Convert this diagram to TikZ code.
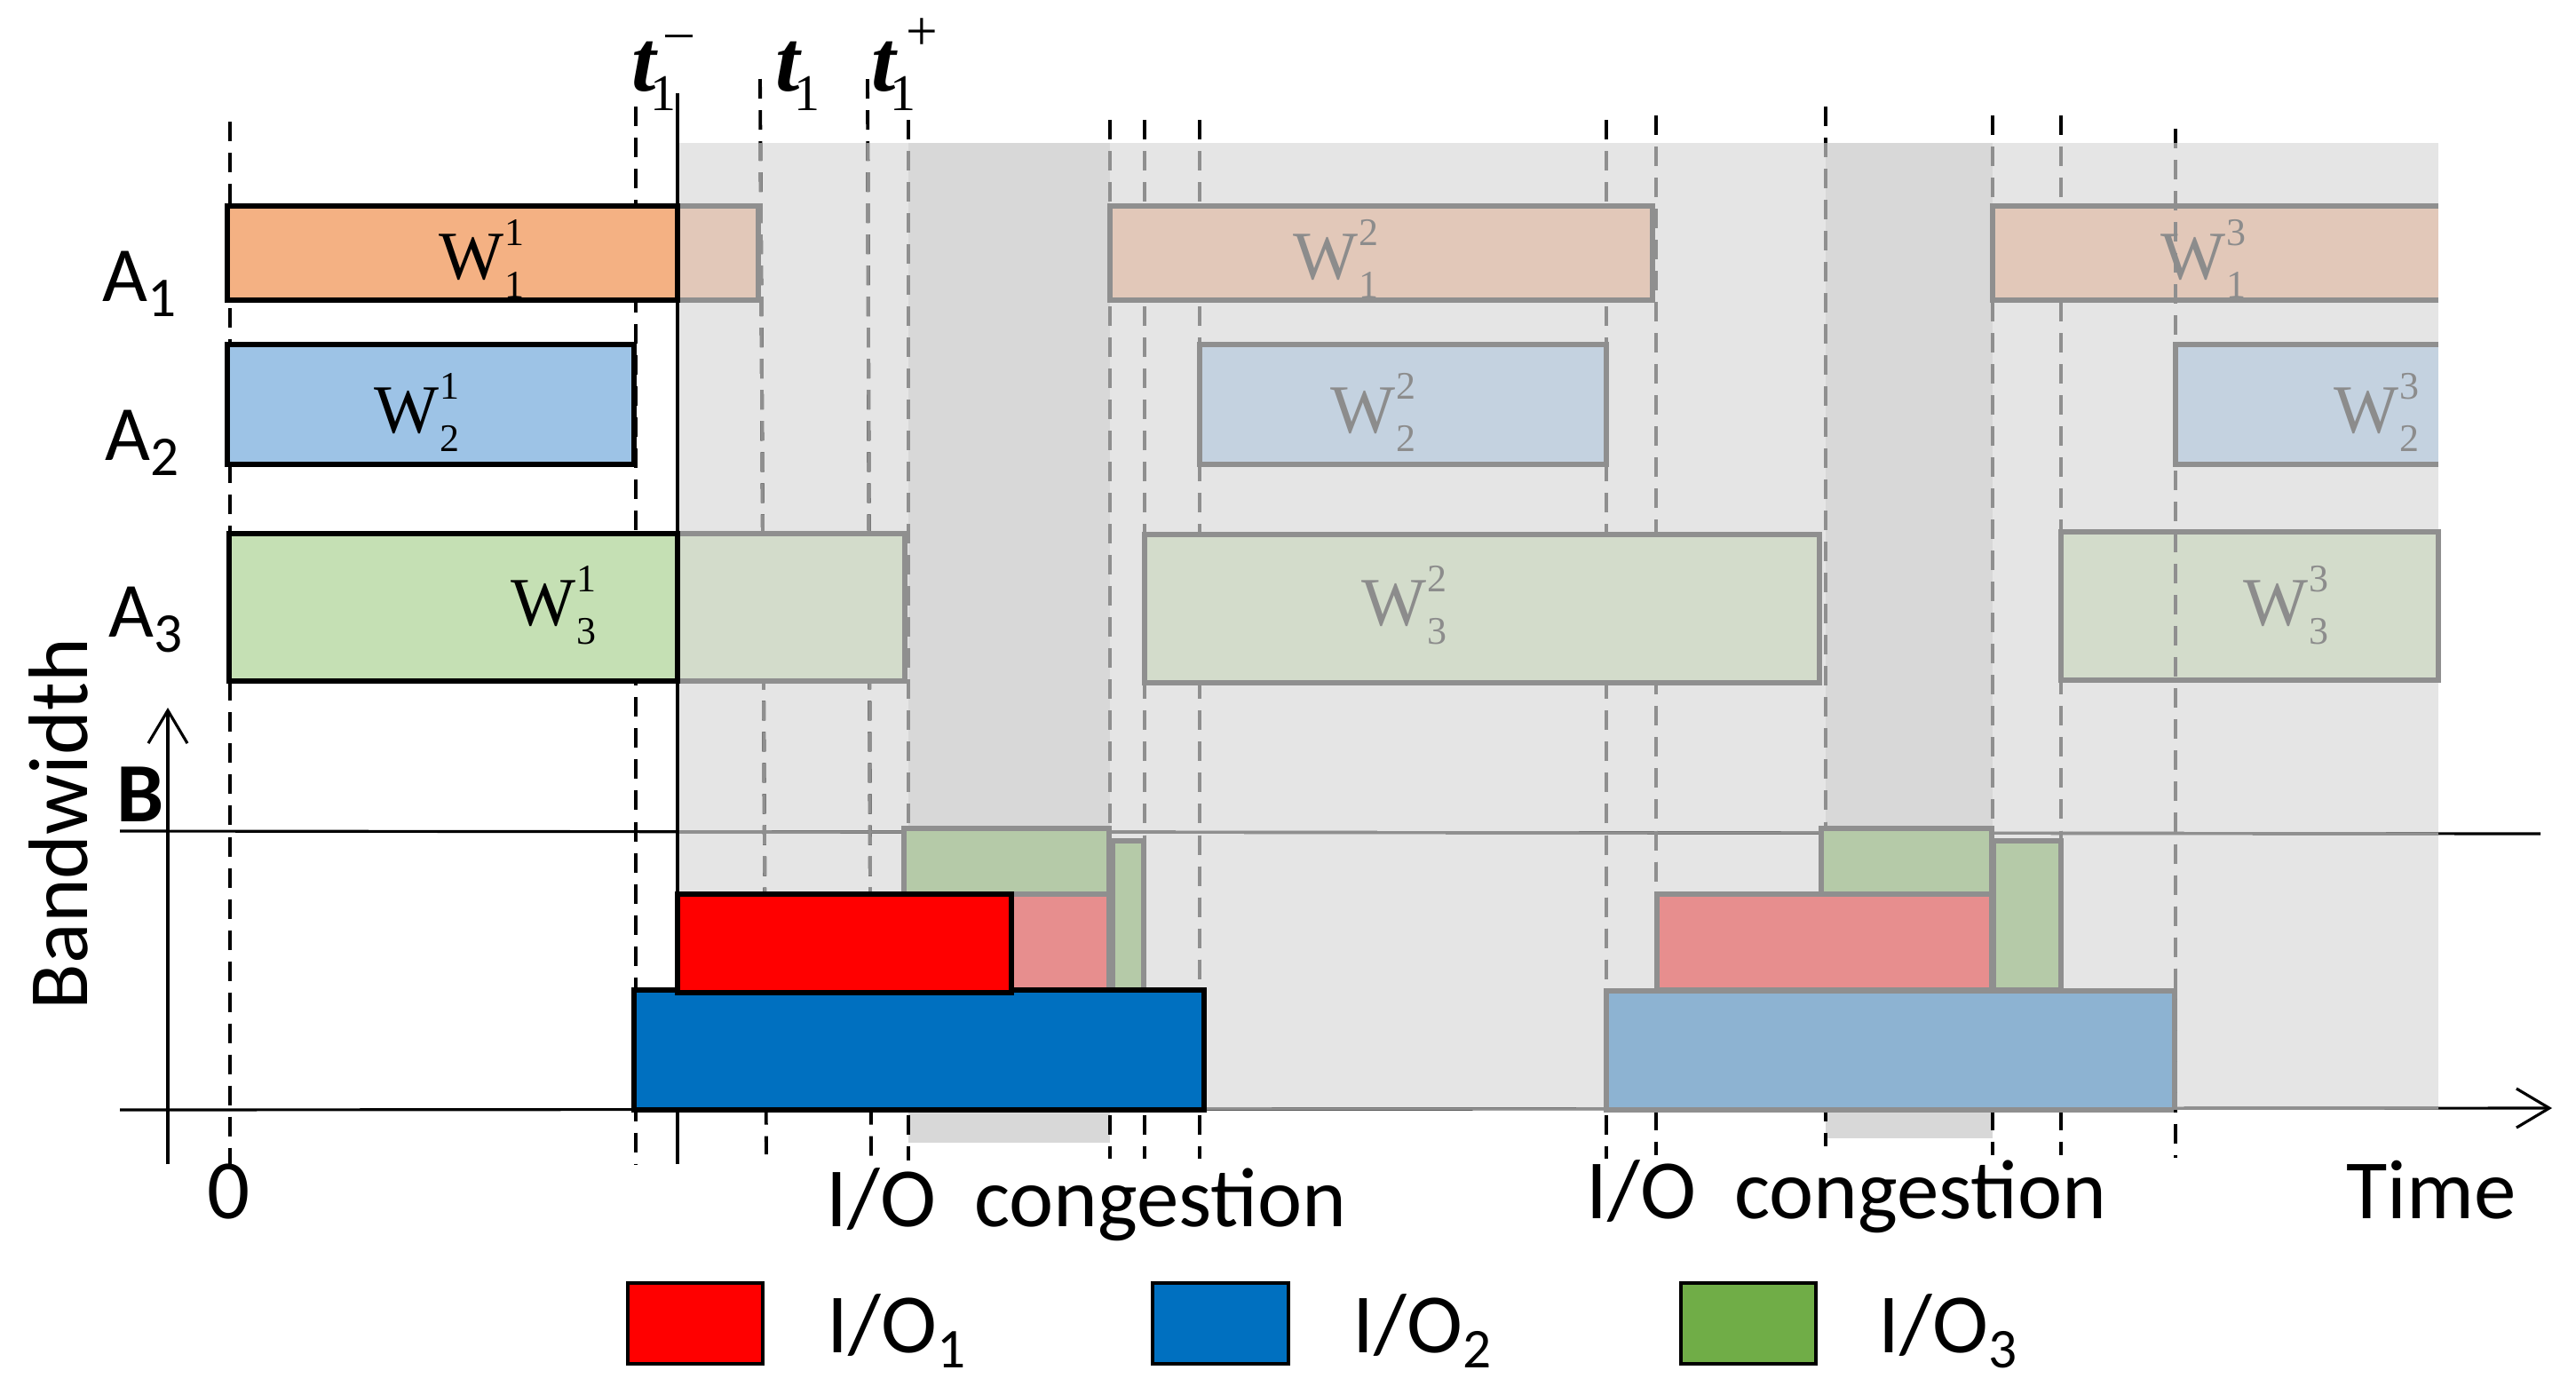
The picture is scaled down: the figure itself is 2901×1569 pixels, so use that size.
\documentclass[tikz,border=0pt]{standalone}
\usepackage{fontspec}
\setmainfont{Carlito}
\newfontfamily\serf{Liberation Serif}
\usetikzlibrary{arrows.meta}
\definecolor{orgF}{HTML}{F4B183}
\definecolor{bluF}{HTML}{9DC3E6}
\definecolor{grnF}{HTML}{C5E0B4}
\definecolor{orgD}{HTML}{E2C8B9}
\definecolor{bluD}{HTML}{C4D2E0}
\definecolor{grnD}{HTML}{D3DCCB}
\definecolor{redF}{HTML}{FF0000}
\definecolor{ioblu}{HTML}{0070C0}
\definecolor{iogrn}{HTML}{70AD47}
\definecolor{redD}{HTML}{E78E8E}
\definecolor{ioBluD}{HTML}{8DB3D2}
\definecolor{ioGrnD}{HTML}{B5CAA8}
\definecolor{regG}{HTML}{E5E5E5}
\definecolor{bandG}{HTML}{D8D8D8}
\definecolor{bordG}{HTML}{8F8F8F}
\definecolor{txtG}{HTML}{8C8C8C}
\newcommand{\wsym}[2]{W\kern0.3pt\rlap{\raisebox{10.8pt}{\fontsize{12.5}{12.5}\selectfont #1}}\raisebox{-6pt}{\fontsize{12.5}{12.5}\selectfont #2}}
% t with subscript 1 and a superscript placed at a given offset
\newcommand{\tsym}[2]{\rlap{\hspace{#2}#1}{\bfseries\itshape t}\kern-2pt\raisebox{-6.5pt}{\fontsize{16.5}{16.5}\selectfont 1}}
\newcommand{\supminus}{\raisebox{0.6cm}{\rule{0.31cm}{0.03cm}}}
\newcommand{\supplus}{\raisebox{0.45cm}{\fontsize{18}{18}\selectfont +}}
\newcommand{\subd}[1]{\raisebox{-5pt}{\fontsize{18}{18}\selectfont #1}}
\begin{document}
\begin{tikzpicture}[x=0.01cm,y=-0.01cm,
  fullB/.style={draw=black,line width=1.5pt},
  fadeB/.style={draw=bordG,line width=1.5pt},
  dsh/.style={dash pattern=on 0.22cm off 0.13cm,line width=1.1pt},
  axl/.style={line width=0.9pt},
  lbl/.style={inner sep=0pt,font=\fontsize{27}{27}\selectfont},
  alb/.style={inner sep=0pt,anchor=base west,font=\fontsize{25}{25}\selectfont},
  wl/.style={inner sep=0pt,anchor=base west,font=\serf\fontsize{22}{22}\selectfont},
  tl/.style={inner sep=0pt,anchor=base west,font=\serf\fontsize{28}{28}\selectfont},
  legbox/.style={draw=black,line width=1.2pt}]
\useasboundingbox (0,0) rectangle (2901,1569);
% shaded regions
\fill[regG] (763,161) rectangle (2746,1249);
\fill[bandG] (1023,161) rectangle (1250,1287);
\fill[bandG] (2056,161) rectangle (2244,1282);
% axes
\draw[axl] (135,936) -- (2861,939);
\draw[axl,-{Straight Barb[length=0.37cm,width=0.44cm]}] (135,1250) -- (2874,1248);
\draw[axl,-{Straight Barb[length=0.37cm,width=0.44cm]}] (189,1311) -- (189,797);
% dashed guide lines
\foreach \xa/\xb/\ya/\yb in {259/259/137/1311, 716/716/120/1311, 856/863/89/1300, 977/981/89/1309,
  1023/1023/135/1307, 1250/1250/135/1305, 1289/1289/135/1305, 1351/1351/135/1305,
  1809/1809/135/1305, 1865/1865/130/1301, 2056/2056/120/1291, 2244/2244/130/1301, 2321/2321/130/1301}
  \draw[dsh] (\xa,\ya) -- (\xb,\yb);
\begin{scope}
\clip (763,161) rectangle (2746,1249);
\draw[axl,bordG] (135,936) -- (2861,939);
\draw[axl,bordG] (135,1250) -- (2874,1248);
\foreach \xa/\xb/\ya/\yb in {856/863/89/1300, 977/981/89/1309,
  1023/1023/135/1307, 1250/1250/135/1305, 1289/1289/135/1305, 1351/1351/135/1305,
  1809/1809/135/1305, 1865/1865/130/1301, 2056/2056/120/1291, 2244/2244/130/1301, 2321/2321/130/1301}
  \draw[dsh,bordG] (\xa,\ya) -- (\xb,\yb);
\end{scope}
\draw[line width=1.1pt] (763,105) -- (763,1311);
% row A1
\filldraw[fill=orgD,fadeB] (763,232) rectangle (854,338);
\filldraw[fill=orgF,fullB] (256,232) rectangle (763,338);
\filldraw[fill=orgD,fadeB] (1250,232) rectangle (1861,338);
\fill[orgD] (2244,232) rectangle (2746,338);
\draw[fadeB] (2746,232) -- (2244,232) -- (2244,338) -- (2746,338);
% row A2
\filldraw[fill=bluF,fullB] (256,388) rectangle (714,523);
\filldraw[fill=bluD,fadeB] (1351,388) rectangle (1809,523);
\fill[bluD] (2450,388) rectangle (2746,523);
\draw[fadeB] (2746,388) -- (2450,388) -- (2450,523) -- (2746,523);
% row A3
\filldraw[fill=grnD,fadeB] (763,601) rectangle (1019,767);
\filldraw[fill=grnF,fullB] (258,601) rectangle (763,767);
\filldraw[fill=grnD,fadeB] (1289,602) rectangle (2049,769);
\filldraw[fill=grnD,fadeB] (2321,599) rectangle (2746,766);
% bandwidth cluster 1
\filldraw[fill=ioGrnD,fadeB] (1018,933) rectangle (1249,1007);
\filldraw[fill=ioGrnD,fadeB] (1253,947) rectangle (1288,1115);
\filldraw[fill=redD,fadeB] (1139,1007) rectangle (1249,1115);
\filldraw[fill=ioblu,fullB] (714,1115) rectangle (1356,1250);
\filldraw[fill=redF,fullB] (763,1007) rectangle (1139,1118);
% bandwidth cluster 2
\filldraw[fill=ioGrnD,fadeB] (2051,933) rectangle (2243,1007);
\filldraw[fill=ioGrnD,fadeB] (2245,947) rectangle (2321,1115);
\filldraw[fill=redD,fadeB] (1866,1007) rectangle (2243,1115);
\filldraw[fill=ioBluD,fadeB] (1809,1116) rectangle (2449,1250);
% line over the third-phase boxes
\draw[dsh] (2450,145) -- (2450,1304);
\begin{scope}
\clip (763,161) rectangle (2746,1249);
\draw[dsh,bordG] (2450,145) -- (2450,1304);
\end{scope}
% W labels
\node[wl] (w11) at (494,314) {\wsym{1}{1}};
\node[wl] (w12) at (421,487) {\wsym{1}{2}};
\node[wl] (w13) at (575,704) {\wsym{1}{3}};
\node[wl,text=txtG] (w21) at (1456,314) {\wsym{2}{1}};
\node[wl,text=txtG] (w22) at (1498,487) {\wsym{2}{2}};
\node[wl,text=txtG] (w23) at (1533,704) {\wsym{2}{3}};
\node[wl,text=txtG] (w31) at (2433,314) {\wsym{3}{1}};
\node[wl,text=txtG] (w32) at (2628,487) {\wsym{3}{2}};
\node[wl,text=txtG] (w33) at (2526,704) {\wsym{3}{3}};
% t labels
\node[tl] (t1m) at (711,102) {\tsym{\supminus}{0.37cm}};
\node[tl] (t1) at (873,102) {\tsym{}{0cm}};
\node[tl] (t1p) at (981,102) {\tsym{\supplus}{0.39cm}};
% row labels
\node[alb] (a1) at (115,339) {A\subd{1}};
\node[alb] (a2) at (118,518) {A\subd{2}};
\node[alb] (a3) at (122,717) {A\subd{3}};
\node[lbl,rotate=90,anchor=base] (bw) at (98,928) {Bandwidth};
\node[lbl,anchor=base west,font=\bfseries\fontsize{27}{27}\selectfont] (bl) at (131,925) {B};
\node[lbl,anchor=base] (zero) at (258,1372) {0};
\node[lbl,anchor=base west] (cong1) at (930,1381) {I/O\ \ congestion};
\node[lbl,anchor=base west] (cong2) at (1786,1372) {I/O\ \ congestion};
\node[lbl,anchor=base west] (time) at (2642,1372) {Time};
% legend
\filldraw[fill=redF,legbox] (707,1445) rectangle (859,1536);
\filldraw[fill=ioblu,legbox] (1298,1445) rectangle (1451,1536);
\filldraw[fill=iogrn,legbox] (1893,1445) rectangle (2045,1536);
\node[lbl,anchor=base west] (lg1) at (931,1523) {I/O\subd{1}};
\node[lbl,anchor=base west] (lg2) at (1523,1523) {I/O\subd{2}};
\node[lbl,anchor=base west] (lg3) at (2115,1523) {I/O\subd{3}};
\end{tikzpicture}
\end{document}
